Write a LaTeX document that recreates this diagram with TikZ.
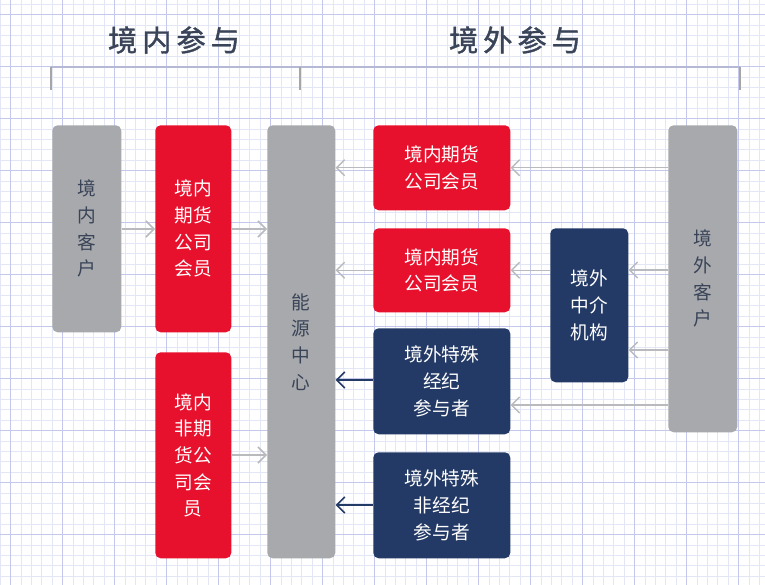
\documentclass[tikz,border=0pt]{standalone}
\usepackage{fontspec}
\setmainfont{Noto Sans CJK SC}
\newfontfamily\hdrfont[FakeBold=1.2]{Noto Sans CJK SC}
\usetikzlibrary{arrows.meta}
\definecolor{cred}{HTML}{E8112D}
\definecolor{cnavy}{HTML}{243A66}
\definecolor{cgray}{HTML}{A7A9AC}
\definecolor{gridmin}{HTML}{E3E6F5}
\definecolor{gridmaj}{HTML}{C4C8EC}
\definecolor{hdr}{HTML}{3A4458}
\tikzset{
 box/.style={rounded corners=4pt,text=white,font=\fontsize{14}{20}\selectfont,align=center,anchor=north west,inner sep=0pt},
 redbox/.style={box,fill=cred},
 navybox/.style={box,fill=cnavy},
 graybox/.style={box,fill=cgray,text=hdr},
 larr/.style={draw=cgray!80,line width=1.1pt,-{Straight Barb[length=6pt,width=12pt]}},
 darr/.style={draw=cnavy,line width=1.3pt,-{Straight Barb[length=6pt,width=12pt]}},
 hdrs/.style={font=\hdrfont\fontsize{22}{26}\selectfont,text=hdr}
}
\begin{document}
\begin{tikzpicture}[x=0.75pt,y=-0.75pt]
\useasboundingbox (0,0) rectangle (765,585);
\fill[white] (0,0) rectangle (765,585);
\foreach \i in {0,...,74} \draw[gridmin,line width=0.4pt] (10.4*\i,0) -- (10.4*\i,585);
\foreach \i in {0,...,57} \draw[gridmin,line width=0.4pt] (0,10.4*\i+4) -- (765,10.4*\i+4);
\foreach \i in {0,...,14} \draw[gridmaj,line width=0.6pt] (10.4*\i*5+10,0) -- (10.4*\i*5+10,585);
\foreach \i in {0,...,11} \draw[gridmaj,line width=0.6pt] (0,10.4*\i*5+14.4) -- (765,10.4*\i*5+14.4);
\node[hdrs] (h1) at (174,40) {境\,内\,参\,与};
\node[hdrs] (h2) at (515,40) {境\,外\,参\,与};
\draw[gridmaj!80!gray,line width=1.5pt] (51,67) -- (740,67);
\draw[gray!70,line width=0.8pt] (51,67) -- (51,90) (300,67) -- (300,90) (740,67) -- (740,90);
\node[graybox,minimum width=51.75pt,minimum height=155.25pt] (kc) at (52,125) {境\\内\\客\\户};
\node[redbox,minimum width=57pt,minimum height=155.25pt] (km) at (155,125) {境内\\期货\\公司\\会员};
\node[redbox,minimum width=57pt,minimum height=154.5pt] (kn) at (155,352) {境内\\非期\\货公\\司会\\员};
\node[graybox,minimum width=51pt,minimum height=324.75pt] (ny) at (267,125) {能\\源\\中\\心};
\node[redbox,minimum width=102.75pt,minimum height=63.75pt] (r1) at (373,125) {境内期货\\公司会员};
\node[redbox,minimum width=102.75pt,minimum height=63pt] (r2) at (373,228) {境内期货\\公司会员};
\node[navybox,minimum width=102.75pt,minimum height=79.5pt] (n1) at (373,328) {境外特殊\\经纪\\参与者};
\node[navybox,minimum width=102.75pt,minimum height=79.5pt] (n2) at (373,452) {境外特殊\\非经纪\\参与者};
\node[navybox,minimum width=58.5pt,minimum height=115.5pt] (zj) at (550,228) {境外\\中介\\机构};
\node[graybox,minimum width=51.75pt,minimum height=230.25pt] (wc) at (668,125) {境\\外\\客\\户};
\draw[larr] (kc.east|-0,229) -- (km.west|-0,229);
\draw[larr] (km.east|-0,229) -- (ny.west|-0,229);
\draw[larr] (kn.east|-0,455) -- (ny.west|-0,455);
\draw[larr] (r1.west) -- (ny.east|-r1.west);
\draw[larr] (r2.west) -- (ny.east|-r2.west);
\draw[darr] (n1.west|-0,380) -- (ny.east|-0,380);
\draw[darr] (n2.west|-0,505) -- (ny.east|-0,505);
\draw[larr] (wc.west|-r1.east) -- (r1.east);
\draw[larr] (zj.west|-r2.east) -- (r2.east);
\draw[larr] (wc.west|-0,270) -- (zj.east|-0,270);
\draw[larr] (wc.west|-0,350) -- (zj.east|-0,350);
\draw[larr] (wc.west|-0,405) -- (n1.east|-0,405);
\end{tikzpicture}
\end{document}
